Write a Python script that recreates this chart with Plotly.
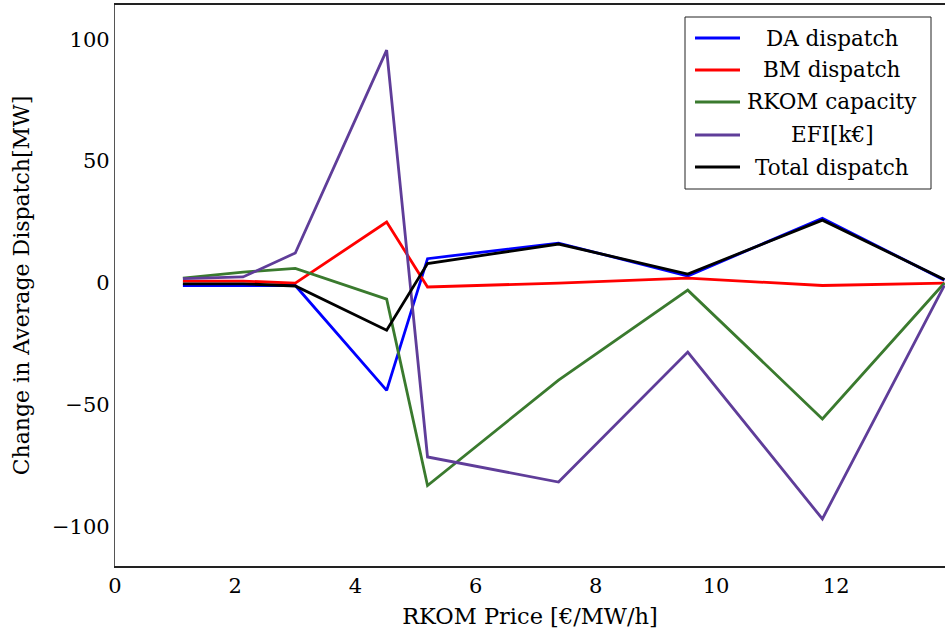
import plotly.graph_objects as go

# Data
price = [1.13, 2.13, 3.0, 4.52, 5.2, 7.38, 9.53, 11.77, 13.8]
da_dispatch = [-1.0, -1.0, -1.0, -44.0, 10.0, 16.4, 2.9, 26.6, 1.2]
bm_dispatch = [0.8, 0.8, 0.0, 25.0, -1.6, 0.0, 2.0, -1.0, 0.0]
rkom_capacity = [2.0, 4.5, 6.0, -6.6, -83.0, -39.8, -2.9, -55.7, 0.0]
efi = [1.8, 2.5, 12.3, 95.5, -71.3, -81.6, -28.3, -96.7, -1.0]
total_dispatch = [-0.3, -0.3, -1.2, -19.3, 8.0, 16.0, 3.7, 25.8, 1.5]

series_names = ["DA dispatch", "BM dispatch", "RKOM capacity", "EFI[k€]", "Total dispatch"]
series_values = [da_dispatch, bm_dispatch, rkom_capacity, efi, total_dispatch]
series_colors = ["#0000ff", "#ff0000", "#3a7a2e", "#5f3d99", "#000000"]

x_ticks = [0, 2, 4, 6, 8, 10, 12]
y_ticks = [-100, -50, 0, 50, 100]
y_tick_text = ["\u2212100", "\u221250", "0", "50", "100"]

FONT = "DejaVu Serif"

fig = go.Figure()
for name, vals, col in zip(series_names, series_values, series_colors):
    fig.add_trace(go.Scatter(x=price, y=vals, mode="lines", name=name,
                             line=dict(color=col, width=2.8), showlegend=False))

W, H = 945, 634
ml, mr, mt, mb = 115, 0, 5, 68
pw, ph = W - ml - mr, H - mt - mb

def px(x):
    return (x - ml) / pw

def py(y):
    return (H - mb - y) / ph

shapes = []
annotations = []
# legend box
shapes.append(dict(type="rect", xref="paper", yref="paper",
                   x0=px(685), x1=px(931), y0=py(189), y1=py(17),
                   line=dict(color="#222222", width=1), fillcolor="white", layer="above"))
rows = [38, 70, 102, 135, 167]
for name, col, ry in zip(series_names, series_colors, rows):
    shapes.append(dict(type="line", xref="paper", yref="paper",
                       x0=px(695), x1=px(740), y0=py(ry), y1=py(ry),
                       line=dict(color=col, width=2.8), layer="above"))
    annotations.append(dict(text=name, xref="paper", yref="paper",
                            x=px(832), y=py(ry), xanchor="center", yanchor="middle",
                            showarrow=False, font=dict(family=FONT, size=21.5, color="black")))

fig.update_layout(
    width=W, height=H,
    margin=dict(l=ml, r=mr, t=mt, b=mb),
    plot_bgcolor="white", paper_bgcolor="white",
    font=dict(family=FONT, size=21, color="black"),
    shapes=shapes, annotations=annotations,
    xaxis=dict(range=[0, 13.81], tickvals=x_ticks, ticks="", showgrid=False,
               zeroline=False, showline=True, linecolor="#222222", linewidth=1.5,
               mirror=True,
               title=dict(text="RKOM Price [€/MW/h]", standoff=11,
                          font=dict(family=FONT, size=22.5))),
    yaxis=dict(range=[-116, 114], tickvals=y_ticks, ticktext=y_tick_text, ticks="",
               showgrid=False, zeroline=False, showline=True, linecolor="#555555",
               linewidth=1.2,
               title=dict(text="Change in Average Dispatch[MW]", standoff=16,
                          font=dict(family=FONT, size=22))),
)

fig.write_html("out.html")
